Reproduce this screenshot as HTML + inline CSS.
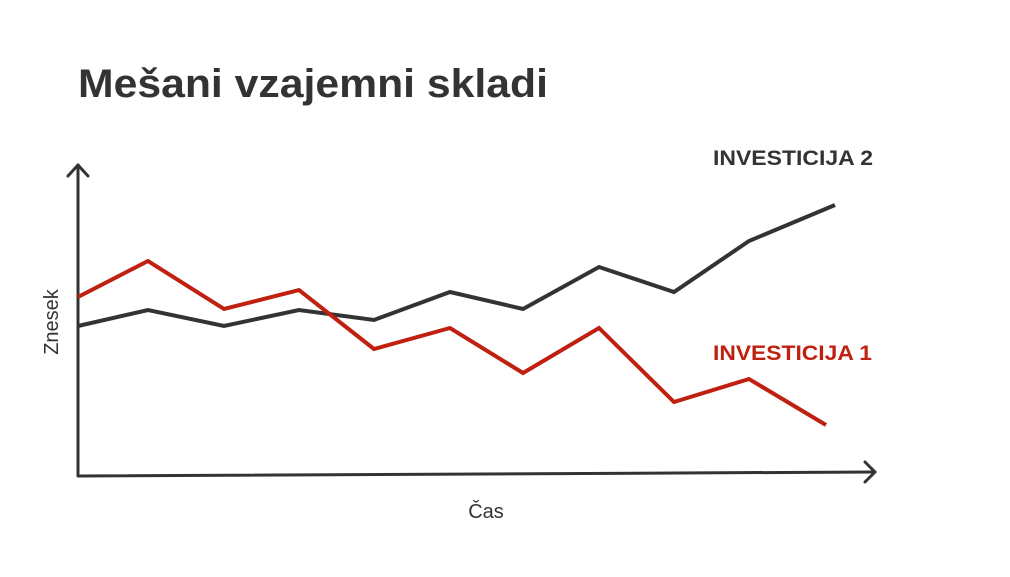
<!DOCTYPE html>
<html><head><style>
body{margin:0;background:#fff;width:1010px;height:572px;overflow:hidden;font-family:"Liberation Sans",sans-serif}
</style></head><body>
<svg width="1010" height="572" xmlns="http://www.w3.org/2000/svg">
<text x="78" y="97" font-size="40" font-weight="bold" fill="#333" textLength="470" lengthAdjust="spacingAndGlyphs">Mešani vzajemni skladi</text>
<g fill="none" stroke="#333" stroke-width="3" stroke-linecap="round" stroke-linejoin="round">
<path d="M78,165 L78,476 L875,472"/>
<path d="M68,176 L78,165 L88,176"/>
<path d="M865,462 L875,472 L865,482"/>
</g>
<polyline fill="none" stroke="#333" stroke-width="4" points="78,326 148,310 224,326 299,310 374,320 450,292 523,309 599,267 674,292 749,241 835,205"/>
<polyline fill="none" stroke="#c0200f" stroke-width="4" points="78,297 148,261 224,309 299,290 374,349 450,328 523,373 599,328 674,402 749,379 826,425"/>
<text x="713" y="165" font-size="21" font-weight="bold" fill="#333" textLength="160" lengthAdjust="spacingAndGlyphs">INVESTICIJA 2</text>
<text x="713" y="360" font-size="21" font-weight="bold" fill="#c0200f" textLength="159" lengthAdjust="spacingAndGlyphs">INVESTICIJA 1</text>
<text x="486" y="518" font-size="20" fill="#333" text-anchor="middle">Čas</text>
<text transform="translate(58,322) rotate(-90)" font-size="20" fill="#333" text-anchor="middle">Znesek</text>
</svg>
</body></html>
